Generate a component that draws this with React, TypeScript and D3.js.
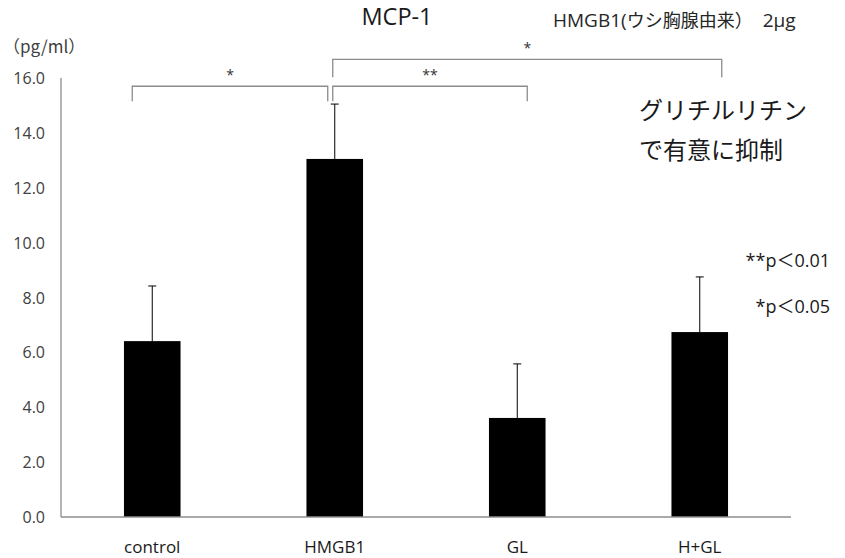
import * as d3 from "d3";

const categories = ["control", "HMGB1", "GL", "H+GL"];
const means = [6.41, 13.05, 3.61, 6.74];
const errTops = [8.42, 15.05, 5.58, 8.75];
const yTicks = [0, 2, 4, 6, 8, 10, 12, 14, 16];

// significance brackets: from category, to category, label, level (data units)
const brackets = [
  { from: "control", to: "HMGB1", label: "*", bar: 15.7, leg: 15.15, dx1: -20, dx2: -7 },
  { from: "HMGB1", to: "GL", label: "**", bar: 15.7, leg: 15.15, dx1: -2, dx2: 10 },
  { from: "HMGB1", to: "H+GL", label: "*", bar: 16.68, leg: 16.03, dx1: -2, dx2: 22 },
];

const W = 845;
const H = 558;
const M = { left: 61, right: 54, top: 78, bottom: 41 };

const LATIN = "'Open Sans', 'Noto Sans CJK JP', sans-serif";
const CJK = "'Noto Sans CJK JP', sans-serif";

export default function App() {
  const x = d3
    .scaleBand<string>()
    .domain(categories)
    .range([M.left, W - M.right])
    .paddingInner(0.69)
    .paddingOuter(0.345);
  const y = d3.scaleLinear().domain([0, 16]).range([H - M.bottom, M.top]);
  const cx = (c: string) => (x(c) ?? 0) + x.bandwidth() / 2;
  const axisColor = "#8c8c8c";
  const textColor = "#404040";

  return (
    <svg
      width={W}
      height={H}
      style={{ position: "absolute", left: 0, top: 0, background: "#fff" }}
    >
      {/* title */}
      <text x={397} y={25} textAnchor="middle" fontFamily={LATIN} fontSize={23.5} fill="#1a1a1a">
        MCP-1
      </text>
      <text x={553} y={27} fontSize={19} fill="#262626">
        <tspan fontFamily={LATIN}>HMGB1(</tspan>
        <tspan fontFamily={CJK} fontSize={18}>ウシ胸腺由来）</tspan>
        <tspan fontFamily={LATIN} dx={10}>2μg</tspan>
      </text>
      <text x={3} y={53} fontFamily={CJK} fontSize={17} fill={textColor}>
        （pg/ml）
      </text>

      {/* y axis */}
      <line x1={M.left} x2={M.left} y1={y(16)} y2={y(0)} stroke={axisColor} strokeWidth={1.3} />
      {yTicks.map((t) => (
        <text
          key={t}
          x={45}
          y={y(t) + 6}
          textAnchor="end"
          fontFamily={LATIN}
          fontSize={16}
          fill={textColor}
        >
          {t.toFixed(1)}
        </text>
      ))}

      {/* bars */}
      {categories.map((c, i) => (
        <rect
          key={c}
          x={x(c)}
          y={y(means[i])}
          width={x.bandwidth()}
          height={y(0) - y(means[i])}
          fill="#000"
        />
      ))}

      {/* error bars */}
      {categories.map((c, i) => (
        <g key={c} stroke="#000" strokeWidth={1}>
          <line x1={cx(c)} x2={cx(c)} y1={y(means[i])} y2={y(errTops[i])} />
          <line x1={cx(c) - 4} x2={cx(c) + 4} y1={y(errTops[i])} y2={y(errTops[i])} />
        </g>
      ))}

      {/* baseline */}
      <line x1={M.left} x2={W - M.right} y1={y(0)} y2={y(0)} stroke={axisColor} strokeWidth={1.6} />

      {/* x labels */}
      {categories.map((c) => (
        <text
          key={c}
          x={cx(c)}
          y={553}
          textAnchor="middle"
          fontFamily={LATIN}
          fontSize={17}
          fill="#1a1a1a"
        >
          {c}
        </text>
      ))}

      {/* significance brackets */}
      {brackets.map((b, i) => {
        const x1 = cx(b.from) + b.dx1;
        const x2 = cx(b.to) + b.dx2;
        return (
          <g key={i}>
            <path
              d={`M${x1},${y(b.leg)}V${y(b.bar)}H${x2}V${y(b.leg)}`}
              fill="none"
              stroke={axisColor}
              strokeWidth={1.3}
            />
            <text
              x={(x1 + x2) / 2}
              y={y(b.bar) - 6}
              textAnchor="middle"
              fontFamily={LATIN}
              fontSize={14}
              fill="#333"
            >
              {b.label}
            </text>
          </g>
        );
      })}

      {/* annotation */}
      <text x={639} y={119} fontFamily={CJK} fontSize={24} fill="#1a1a1a">
        グリチルリチン
      </text>
      <text x={639} y={159} fontFamily={CJK} fontSize={24} fill="#1a1a1a">
        で有意に抑制
      </text>

      {/* p-values legend */}
      <text x={830} y={267} textAnchor="end" fontFamily={LATIN} fontSize={18} fill="#1a1a1a">
        **p＜0.01
      </text>
      <text x={830} y={313} textAnchor="end" fontFamily={LATIN} fontSize={18} fill="#1a1a1a">
        *p＜0.05
      </text>
    </svg>
  );
}
